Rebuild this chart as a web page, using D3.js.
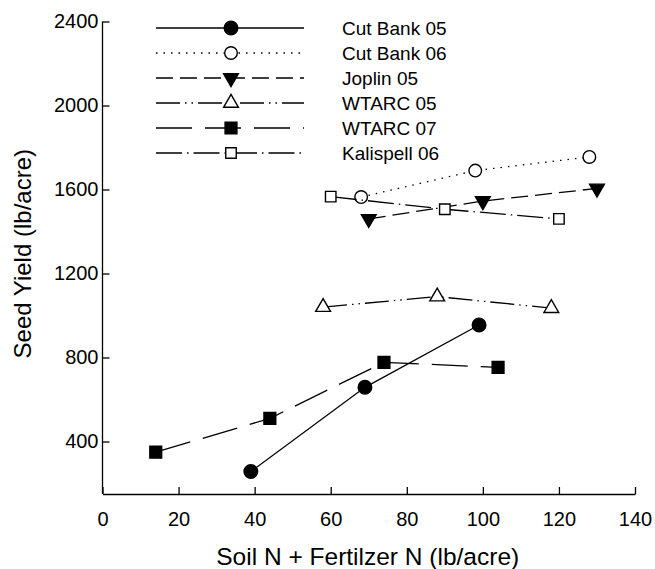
<!DOCTYPE html>
<html>
<head>
<meta charset="utf-8">
<script src="https://cdn.jsdelivr.net/npm/d3@7"></script>
<style>
  body { margin: 0; background: #fff; }
  text { font-family: "Liberation Sans", Arial, sans-serif; fill: #000; }
</style>
</head>
<body>
<div id="chart"></div>
<script>
// data
var seriesNames = ["Cut Bank 05", "Cut Bank 06", "Joplin 05", "WTARC 05", "WTARC 07", "Kalispell 06"];
var cutBank05X = [39, 69, 99],   cutBank05Y = [257, 658, 955];
var cutBank06X = [68, 98, 128],  cutBank06Y = [1564, 1690, 1755];
var joplin05X = [70, 100, 130],  joplin05Y = [1460, 1545, 1605];
var wtarc05X = [58, 88, 118],    wtarc05Y = [1040, 1090, 1035];
var wtarc07X = [14, 44, 74, 104], wtarc07Y = [349, 510, 777, 753];
var kalispell06X = [60, 90, 120], kalispell06Y = [1566, 1506, 1460];
var xTicks = [0, 20, 40, 60, 80, 100, 120, 140];
var yTicks = [400, 800, 1200, 1600, 2000, 2400];

var W = 655, H = 569;
var margin = { top: 21.5, right: 20, bottom: 75, left: 102.5 },
    width = W - margin.left - margin.right,
    height = H - margin.top - margin.bottom;

var svg = d3.select("#chart").append("svg")
    .attr("width", W).attr("height", H);
var g = svg.append("g")
    .attr("transform", "translate(" + margin.left + "," + margin.top + ")");

var x = d3.scaleLinear().domain([0, 140]).range([0, 532.5]);
var y = d3.scaleLinear().domain([150, 2400]).range([472.5, 0]);

// styles per series: dash, marker type, filled, rotate
var styles = [
  { dash: null,                  sym: d3.symbolCircle,   size: 145, fill: true,  rot: 0 },
  { dash: "1.5,6",               sym: d3.symbolCircle,   size: 125, fill: false, rot: 0 },
  { dash: "17,7",                sym: d3.symbolTriangle, size: 95,  fill: true,  rot: 180 },
  { dash: "24,5,1.5,5,1.5,5",    sym: d3.symbolTriangle, size: 95,  fill: false, rot: 0 },
  { dash: "36,13",               sym: d3.symbolSquare,   size: 140, fill: true,  rot: 0 },
  { dash: "26,5,1.5,5",          sym: d3.symbolSquare,   size: 110, fill: false, rot: 0 }
];
var xs = [cutBank05X, cutBank06X, joplin05X, wtarc05X, wtarc07X, kalispell06X];
var ys = [cutBank05Y, cutBank06Y, joplin05Y, wtarc05Y, wtarc07Y, kalispell06Y];

// axes
var xAxis = g.append("g")
    .attr("transform", "translate(0," + height + ")")
    .call(d3.axisBottom(x).tickValues(xTicks).tickFormat(d3.format("d"))
      .tickSizeInner(-7).tickSizeOuter(0).tickPadding(18));
var yAxis = g.append("g")
    .call(d3.axisLeft(y).tickValues(yTicks).tickFormat(d3.format("d"))
      .tickSizeInner(-7).tickSizeOuter(0).tickPadding(4));
[xAxis, yAxis].forEach(function (a) {
  a.selectAll("text").style("font-size", "20px").style("font-family", "Liberation Sans, Arial, sans-serif");
  a.selectAll("line, path").attr("stroke", "#000").attr("stroke-width", 1.3);
});
// y axis line runs from bottom of domain up to the 2400 tick
yAxis.select(".domain").attr("d", "M0," + height + "V0");

// axis titles
g.append("text")
    .attr("x", width / 2 - 1).attr("y", height + 71)
    .attr("text-anchor", "middle")
    .style("font-size", "24.5px")
    .text("Soil N + Fertilzer N (lb/acre)");
g.append("text")
    .attr("transform", "translate(-72," + (height / 2 - 4) + ") rotate(-90)")
    .attr("text-anchor", "middle")
    .style("font-size", "24px")
    .text("Seed Yield (lb/acre)");

var line = d3.line().x(function (d) { return x(d[0]); }).y(function (d) { return y(d[1]); });

for (var i = 0; i < seriesNames.length; i++) {
  var st = styles[i];
  var pts = xs[i].map(function (v, j) { return [v, ys[i][j]]; });
  g.append("path")
      .datum(pts)
      .attr("d", line)
      .attr("fill", "none")
      .attr("stroke", "#000")
      .attr("stroke-width", 1.3)
      .attr("stroke-dasharray", st.dash);
  g.selectAll(".m" + i)
      .data(pts)
      .enter().append("path")
      .attr("class", "m" + i)
      .attr("transform", function (d) { return "translate(" + x(d[0]) + "," + y(d[1]) + ") rotate(" + st.rot + ")"; })
      .attr("d", d3.symbol().type(st.sym).size(st.size))
      .attr("fill", st.fill ? "#000" : "#fff")
      .attr("stroke", "#000")
      .attr("stroke-width", 1.4);
}

// legend
var legend = svg.append("g");
for (var i = 0; i < seriesNames.length; i++) {
  var st = styles[i];
  var ly = 28 + i * 25;
  legend.append("line")
      .attr("x1", 156).attr("x2", 304).attr("y1", ly).attr("y2", ly)
      .attr("stroke", "#000").attr("stroke-width", 1.3)
      .attr("stroke-dasharray", st.dash);
  legend.append("path")
      .attr("transform", "translate(231," + ly + ") rotate(" + st.rot + ")")
      .attr("d", d3.symbol().type(st.sym).size(st.size))
      .attr("fill", st.fill ? "#000" : "#fff")
      .attr("stroke", "#000").attr("stroke-width", 1.4);
  legend.append("text")
      .attr("x", 342).attr("y", ly).attr("dy", "0.35em")
      .style("font-size", "19px")
      .text(seriesNames[i]);
}
</script>
</body>
</html>
